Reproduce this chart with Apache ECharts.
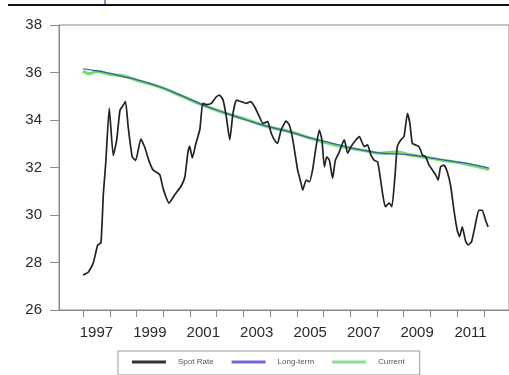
<!DOCTYPE html>
<html>
<head>
<meta charset="utf-8">
<script src="https://cdn.jsdelivr.net/npm/echarts@6/dist/echarts.min.js"></script>
<style>
  html, body { margin: 0; padding: 0; background: #fff; }
  #chart { width: 509px; height: 375px; }
</style>
</head>
<body>
<div id="chart"></div>
<script>
// Spot rate, monthly-ish readings (decimal year, value)
const spotYears = [1997.00, 1997.20, 1997.38, 1997.55, 1997.67, 1997.76, 1997.85, 1997.98, 1998.13, 1998.26,
  1998.38, 1998.49, 1998.59, 1998.69, 1998.84, 1998.97, 1999.16, 1999.31, 1999.46, 1999.62,
  1999.87, 2000.00, 2000.22, 2000.43, 2000.66, 2000.81, 2000.92, 2000.99, 2001.09, 2001.22,
  2001.37, 2001.48, 2001.62, 2001.80, 2001.99, 2002.11, 2002.24, 2002.36, 2002.49, 2002.61,
  2002.74, 2002.92, 2003.11, 2003.26, 2003.42, 2003.60, 2003.73, 2003.91, 2004.04, 2004.20,
  2004.28, 2004.41, 2004.60, 2004.72, 2004.85, 2005.03, 2005.16, 2005.22, 2005.35, 2005.47,
  2005.59, 2005.72, 2005.84, 2005.94, 2006.03, 2006.12, 2006.22, 2006.34, 2006.44, 2006.59,
  2006.71, 2006.78, 2006.90, 2007.03, 2007.21, 2007.34, 2007.52, 2007.65, 2007.77, 2007.90,
  2008.02, 2008.08, 2008.21, 2008.31, 2008.46, 2008.56, 2008.68, 2008.76, 2008.89, 2009.01,
  2009.14, 2009.23, 2009.32, 2009.45, 2009.57, 2009.70, 2009.82, 2009.95, 2010.07, 2010.20,
  2010.29, 2010.38, 2010.51, 2010.63, 2010.76, 2010.88, 2011.00, 2011.09, 2011.19, 2011.32,
  2011.41, 2011.54, 2011.69, 2011.81, 2011.94, 2012.06, 2012.16];
const spotValues = [27.47, 27.60, 27.97, 28.74, 28.83, 30.90, 32.20, 34.50, 32.50, 33.16,
  34.40, 34.60, 34.77, 33.70, 32.45, 32.30, 33.20, 32.85, 32.30, 31.90,
  31.70, 31.10, 30.50, 30.85, 31.20, 31.60, 32.60, 32.90, 32.40, 33.00,
  33.60, 34.70, 34.65, 34.70, 34.98, 35.05, 34.84, 34.14, 33.16, 34.28,
  34.84, 34.77, 34.70, 34.77, 34.56, 34.14, 33.86, 33.93, 33.44, 33.09,
  33.02, 33.58, 33.95, 33.79, 33.16, 31.90, 31.33, 31.05, 31.47, 31.40,
  31.90, 32.88, 33.58, 33.16, 32.03, 32.45, 32.30, 31.55, 32.30, 32.66,
  33.02, 33.16, 32.60, 32.88, 33.16, 33.30, 32.88, 32.95, 32.53, 32.30,
  32.24, 31.90, 30.90, 30.35, 30.50, 30.35, 31.75, 32.88, 33.16, 33.30,
  34.28, 33.86, 33.02, 32.95, 32.88, 32.53, 32.45, 32.10, 31.90, 31.68,
  31.47, 32.03, 32.10, 31.82, 31.20, 30.20, 29.37, 29.09, 29.50, 28.88,
  28.74, 28.88, 29.65, 30.20, 30.20, 29.79, 29.50];

// Long-term equilibrium rate
const longYears = [1997.00, 1997.45, 1997.93, 1998.38, 1999.13, 1999.87, 2000.62, 2001.48, 2002.37, 2003.11,
  2003.87, 2004.72, 2005.58, 2006.84, 2008.08, 2009.31, 2010.58, 2011.33, 2012.19];
const longValues = [36.15, 36.08, 35.98, 35.86, 35.66, 35.40, 35.06, 34.64, 34.28, 34.00,
  33.74, 33.50, 33.23, 32.88, 32.62, 32.52, 32.30, 32.18, 31.97];

// Current equilibrium rate
const currYears = [1997.00, 1997.25, 1997.50, 1997.75, 1998.00, 1998.40, 1999.10, 1999.90, 2000.60, 2001.50,
  2002.40, 2003.10, 2003.90, 2004.70, 2005.60, 2006.80, 2007.60, 2008.10, 2008.70, 2009.30,
  2010.60, 2011.30, 2012.19];
const currValues = [36.05, 35.95, 36.05, 36.00, 35.92, 35.88, 35.64, 35.38, 35.05, 34.62,
  34.26, 34.02, 33.72, 33.52, 33.20, 32.85, 32.70, 32.60, 32.65, 32.52,
  32.28, 32.15, 31.92];

const yearTicks = [1997, 1998, 1999, 2000, 2001, 2002, 2003, 2004, 2005, 2006, 2007, 2008, 2009, 2010, 2011, 2012];
const yearLabels = ['1997', '1999', '2001', '2003', '2005', '2007', '2009', '2011'];

const pairs = (xs, ys) => xs.map((x, i) => [x, ys[i]]);

const chart = echarts.init(document.getElementById('chart'), null, { renderer: 'canvas' });
const axisGrey = '#8a8a8a';
const labelFont = { fontFamily: 'Liberation Sans, Arial, sans-serif', fontSize: 15, color: '#2a2a2a' };

chart.setOption({
  backgroundColor: '#fff',
  animation: false,
  grid: { left: 59, right: -2, top: 25, bottom: 65, show: true, borderColor: axisGrey, borderWidth: 1 },
  xAxis: {
    type: 'value',
    min: 1996.1,
    max: 2012.94,
    splitLine: { show: false },
    axisLine: { lineStyle: { color: axisGrey } },
    axisTick: { customValues: yearTicks, length: 7, lineStyle: { color: axisGrey } },
    axisLabel: Object.assign({
      customValues: yearLabels.map(y => Number(y) + 0.5),
      formatter: v => String(Math.floor(v)),
      margin: 15
    }, labelFont)
  },
  yAxis: {
    type: 'value',
    min: 26,
    max: 38,
    interval: 2,
    splitLine: { show: false },
    axisLine: { show: true, lineStyle: { color: axisGrey } },
    axisTick: { show: true, length: 9, lineStyle: { color: axisGrey } },
    axisLabel: Object.assign({ margin: 17 }, labelFont)
  },
  legend: {
    data: ['Spot Rate', 'Long-term', 'Current'],
    left: 118,
    top: 351,
    padding: [7, 15, 9, 14],
    itemGap: 18,
    itemWidth: 34,
    itemHeight: 3,
    icon: 'rect',
    borderColor: '#999',
    borderWidth: 1,
    textStyle: { fontFamily: 'Liberation Sans, Arial, sans-serif', fontSize: 8, color: '#555', padding: [0, 0, 0, 7] }
  },
  series: [
    {
      name: 'Spot Rate', type: 'line', data: pairs(spotYears, spotValues),
      showSymbol: false, smooth: 0.15, z: 3,
      lineStyle: { color: '#222', width: 1.7 }, itemStyle: { color: '#333' }
    },
    {
      name: 'Current', type: 'line', data: pairs(currYears, currValues),
      showSymbol: false, smooth: true, z: 1,
      lineStyle: { color: '#72de72', width: 3.2 }, itemStyle: { color: '#8be08b' }
    },
    {
      name: 'Long-term', type: 'line', data: pairs(longYears, longValues),
      showSymbol: false, smooth: true, z: 2,
      lineStyle: { color: '#2f3fa8', width: 1.3, opacity: 0.8 }, itemStyle: { color: '#6a6ad0' }
    }
  ],
  graphic: [
    { type: 'line', shape: { x1: 8, y1: 5, x2: 509, y2: 5 }, style: { stroke: '#111', lineWidth: 2 } },
    { type: 'line', shape: { x1: 105, y1: 0, x2: 105, y2: 4 }, style: { stroke: '#3a6fd8', lineWidth: 1.5 } }
  ]
});
</script>
</body>
</html>
